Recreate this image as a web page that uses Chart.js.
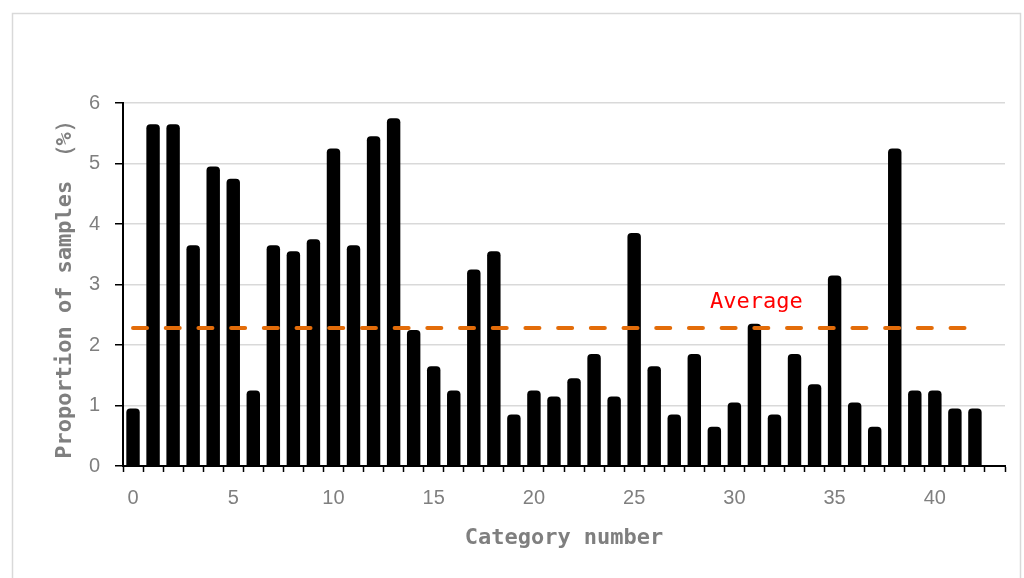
<!DOCTYPE html>
<html>
<head>
<meta charset="utf-8">
<script src="https://cdn.jsdelivr.net/npm/chart.js@4/dist/chart.umd.min.js"></script>
<style>
  html, body { margin: 0; padding: 0; background: #ffffff; }
  #wrap { width: 1024px; height: 578px; position: relative; }
</style>
</head>
<body>
<div id="wrap"><canvas id="c" width="1024" height="578"></canvas></div>
<script>
// ---- data ----
const categories = Array.from({length: 44}, (_, i) => String(i)); // 0..43 (43 is an empty slot)
const proportions = [
  0.95, 5.65, 5.65, 3.65, 4.95, 4.75, 1.25, 3.65, 3.55, 3.75,
  5.25, 3.65, 5.45, 5.75, 2.25, 1.65, 1.25, 3.25, 3.55, 0.85,
  1.25, 1.15, 1.45, 1.85, 1.15, 3.85, 1.65, 0.85, 1.85, 0.65,
  1.05, 2.35, 0.85, 1.85, 1.35, 3.15, 1.05, 0.65, 5.25, 1.25,
  1.25, 0.95, 0.95
];
const averageValue = 2.28;
const averageLine = categories.map((c, i) => (i <= 42 ? averageValue : null));
const yTicks = [0, 1, 2, 3, 4, 5, 6];
const averageLabel = 'Average';
const averageLabelCategory = 31;

const GREY = '#7f7f7f';

const frame = {
  id: 'frame',
  beforeDraw(chart) {
    const ctx = chart.ctx;
    ctx.save();
    ctx.fillStyle = '#ffffff';
    ctx.fillRect(0, 0, chart.width, chart.height);
    ctx.strokeStyle = '#d9d9d9';
    ctx.lineWidth = 1.5;
    ctx.strokeRect(12.5, 13.5, 1008, 600);
    ctx.restore();
  }
};

const avgText = {
  id: 'avgText',
  afterDatasetsDraw(chart) {
    const ctx = chart.ctx;
    const x = chart.scales.x.getPixelForValue(averageLabelCategory) + 2;
    const y = chart.scales.y.getPixelForValue(averageValue) - 26;
    ctx.save();
    ctx.font = '22px "DejaVu Sans Mono"';
    ctx.fillStyle = '#ff0000';
    ctx.textAlign = 'center';
    ctx.textBaseline = 'middle';
    ctx.fillText(averageLabel, x, y);
    ctx.restore();
  }
};

new Chart(document.getElementById('c'), {
  data: {
    labels: categories,
    datasets: [
      {
        type: 'line',
        data: averageLine,
        borderColor: '#e36c09',
        borderWidth: 4,
        borderDash: [14, 18.7],
        borderCapStyle: 'round',
        pointRadius: 0,
        fill: false,
        order: 0
      },
      {
        type: 'bar',
        data: proportions,
        backgroundColor: '#000000',
        borderColor: '#000000',
        borderWidth: 0,
        borderRadius: 4,
        barPercentage: 0.67,
        categoryPercentage: 1.0,
        order: 1
      }
    ]
  },
  options: {
    responsive: false,
    animation: false,
    devicePixelRatio: 1,
    layout: { padding: { left: 0, top: 103, right: 19, bottom: 0 } },
    plugins: { legend: { display: false }, tooltip: { enabled: false } },
    scales: {
      x: {
        type: 'category',
        offset: true,
        grid: {
          offset: true,
          drawOnChartArea: false,
          drawTicks: true,
          tickLength: 6,
          tickColor: '#000000',
          tickWidth: 1.5
        },
        border: { display: true, color: '#000000', width: 2 },
        ticks: {
          autoSkip: false,
          maxRotation: 0,
          padding: 14,
          color: GREY,
          font: { family: '"Liberation Sans"', size: 20 },
          callback: function (v, i) { return (i % 5 === 0) ? categories[i] : ''; }
        },
        title: {
          display: true,
          text: 'Category number',
          color: GREY,
          font: { family: '"DejaVu Sans Mono"', size: 22, weight: 'bold' },
          padding: { top: 0, bottom: 27 }
        },
        afterFit(scale) { scale.height = 112; }
      },
      y: {
        min: 0,
        max: 6,
        afterBuildTicks(scale) { scale.ticks = yTicks.map(v => ({ value: v })); },
        grid: {
          color: '#d9d9d9',
          lineWidth: 1.5,
          drawTicks: true,
          tickLength: 8,
          tickColor: '#000000',
          tickWidth: 1.5
        },
        border: { display: true, color: '#000000', width: 2 },
        ticks: {
          padding: 15,
          color: GREY,
          font: { family: '"Liberation Sans"', size: 20 }
        },
        title: {
          display: true,
          text: 'Proportion of samples （%）',
          color: GREY,
          font: { family: '"DejaVu Sans Mono"', size: 22, weight: 'bold' },
          padding: { top: 52, bottom: 0 }
        },
        afterFit(scale) { scale.width = 123; }
      }
    }
  },
  plugins: [frame, avgText]
});
</script>
</body>
</html>
